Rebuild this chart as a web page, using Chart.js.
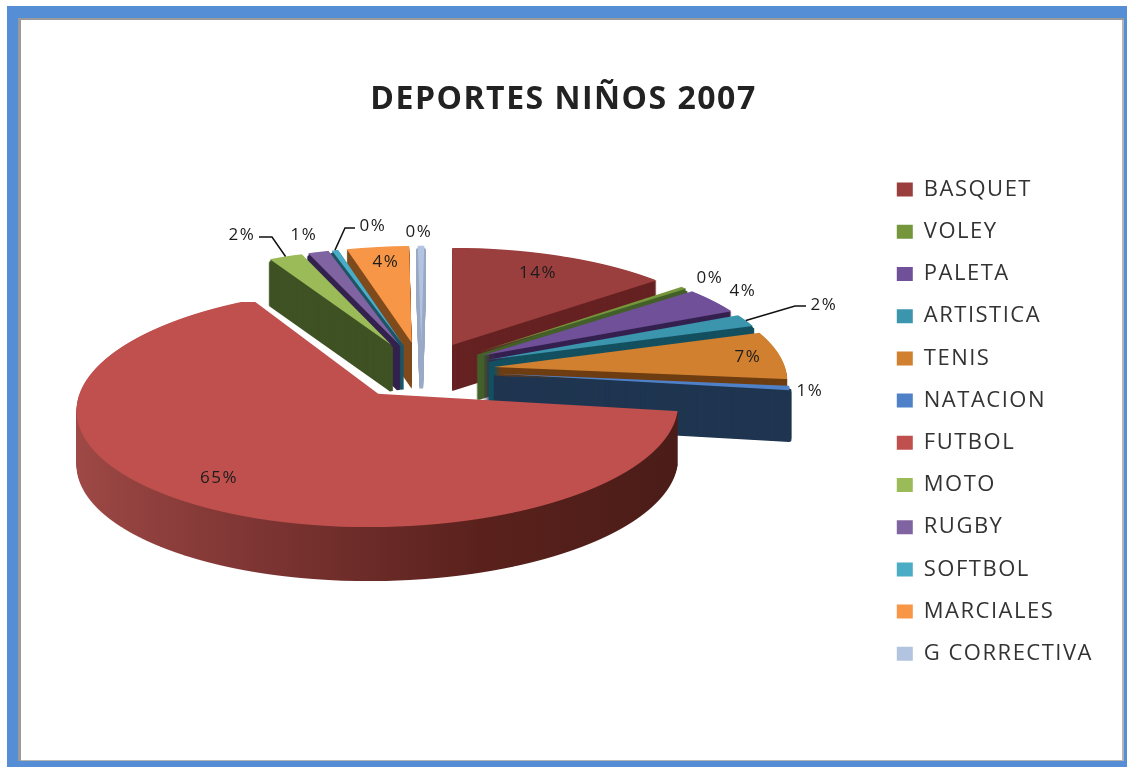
<!DOCTYPE html>
<html>
<head>
<meta charset="utf-8">
<title>Deportes niños 2007</title>
<style>
  html, body { margin: 0; padding: 0; background: #fff; }
  #frame { position: absolute; left: 7px; top: 6px; width: 1120px; height: 761px; box-sizing: border-box;
           background: #fff; border: solid #558ed5; border-width: 12px 3px 6px 11px; box-shadow: inset 3px 2px 0 #9a9a9a, inset -2px -1px 0 #b5b5b5; }
  canvas { position: absolute; left: 0; top: 0; }
</style>
</head>
<body>
<div id="frame"></div>
<canvas id="chart" width="1127" height="767"></canvas>
<script src="https://cdn.jsdelivr.net/npm/chart.js@4"></script>
<script>
const sports = ['BASQUET','VOLEY','PALETA','ARTISTICA','TENIS','NATACION','FUTBOL','MOTO','RUGBY','SOFTBOL','MARCIALES','G CORRECTIVA'];
const percents = [13.9, 0.4, 3.8, 1.8, 6.8, 0.6, 64.6, 2.1, 1.3, 0.4, 3.9, 0.4];

const topColors = ['#9a3f3e','#76963c','#71509a','#3a95ad','#d0802f','#4f81c8','#c0504d','#9bbb59','#8064a2','#4bacc6','#f79646','#b3c4e0'];
const sideColors = ['#662222','#44602a','#35214f','#14505f','#6e3d12','#1f3550','#7a3230','#3f5224','#33224e','#1d5566','#7f4a1c','#9aa9c5'];
const futbolSide = ['#a04a47','#7d3533','#5a211c','#4a1c18'];
const drawOrder = [11,10,9,8,7,0,1,2,3,4,5,6];

// ground plane seen in perspective: u goes east, v goes away from the viewer, both in pie radii.
// x,u0 is the column that stays vertical going into the distance
const view = {x: 452, u0: 0.105, y: 370, sx: 292, sy: 113, p: 0.11, explode: 0.25, wall: 50};

// text anchors for the percent labels, leader is the elbow of the line to the rim
const labelSpots = [[538,273],[710,278],[743,291],[824,305],[748,357],[810,391],[219,478],[242,235],[304,235],[373,226],[386,262],[419,232]];
const leaders = [null,null,null,[[806,306],[795,306]],null,null,null,[[259,237],[272,237]],null,[[355,228],[345,228]],null,null];

function project(u, v){
  const g = 1 / (1 + view.p * v);
  return {x: view.x + view.sx * (u - view.u0) * g, y: view.y - view.sy * v * g};
}

function wedgeInfo(arc){
  const mid = (arc.startAngle + arc.endAngle) / 2;
  const ue = Math.cos(mid) * view.explode, ve = -Math.sin(mid) * view.explode;
  let top = project(ue, ve).y, bottom = top;
  for(let t = 0; t <= 1; t += 0.02){
    const a = arc.startAngle + (arc.endAngle - arc.startAngle) * t;
    const y = project(ue + Math.cos(a), ve - Math.sin(a)).y;
    top = Math.min(top, y);
    bottom = Math.max(bottom, y);
  }
  // nearer wedges get a taller wall
  const depth = Math.round(view.wall / (1 + view.p * (ve - Math.sin(mid) * 0.6)));
  return {mid, ue, ve, depth, top: Math.floor(top) - 1, bottom: Math.ceil(bottom) + 1};
}

// an arc can't be drawn in perspective directly, so it's redrawn once per pixel row
// with the flat scale of that row
function drawRow(ctx, arc, w, row, dy){
  const yc = row + 0.5;
  const s = (view.y - yc) / view.sy;
  const v = s / (1 - view.p * s);
  const g = 1 / (1 + view.p * v);
  const r = arc.outerRadius;
  ctx.save();
  ctx.beginPath();
  ctx.rect(0, row + dy, ctx.canvas.width, 1);
  ctx.clip();
  ctx.translate(view.x + view.sx * g * (w.ue - view.u0), yc + dy - view.sy * g * g * (w.ve - v));
  ctx.scale(view.sx * g / r, view.sy * g * g / r);
  ctx.translate(-arc.x, -arc.y);
  arc.draw(ctx);
  ctx.restore();
}

const pie3d = {
  id: 'pie3d',
  beforeLayout(chart){ chart.ctx.letterSpacing = '1.5px'; },
  beforeDatasetDraw(chart){
    const ctx = chart.ctx, arcs = chart.getDatasetMeta(0).data;
    drawOrder.forEach(i => {
      const arc = arcs[i], w = wedgeInfo(arc), saved = arc.options;
      let side = sideColors[i];
      if(sports[i] === 'FUTBOL'){
        side = ctx.createLinearGradient(arc.x - arc.outerRadius, 0, arc.x + arc.outerRadius, 0);
        futbolSide.forEach((c, k) => side.addColorStop(k / (futbolSide.length - 1), c));
      }
      // thin wedges get a border on the lower layers, otherwise the stack comes out striped
      const narrow = arc.endAngle - arc.startAngle < 0.2;
      const wallPlain = Object.assign(Object.create(saved), {backgroundColor: side, borderWidth: 0});
      const wallFat = Object.assign(Object.create(saved), {backgroundColor: side, borderColor: side, borderWidth: narrow ? 3.5 : 0});
      for(let d = w.depth; d > 0; d--){
        arc.options = d > 2 ? wallFat : wallPlain;
        for(let row = w.top; row <= w.bottom; row++) drawRow(ctx, arc, w, row, d);
      }
      arc.options = Object.assign(Object.create(saved), {backgroundColor: topColors[i], borderWidth: 0});
      for(let row = w.top; row <= w.bottom; row++) drawRow(ctx, arc, w, row, 0);
      arc.options = saved;
    });
    return false;
  },
  afterDatasetsDraw(chart){
    const ctx = chart.ctx, arcs = chart.getDatasetMeta(0).data;
    ctx.save();
    ctx.font = '17px "Open Sans"';
    ctx.fillStyle = '#1c1c1c';
    ctx.textAlign = 'center';
    ctx.textBaseline = 'middle';
    percents.forEach((v, i) => {
      ctx.fillText(Math.round(v) + '%', labelSpots[i][0], labelSpots[i][1]);
      if(!leaders[i]) return;
      const w = wedgeInfo(arcs[i]);
      const rim = project(w.ue + Math.cos(w.mid), w.ve - Math.sin(w.mid));
      ctx.beginPath();
      ctx.moveTo(leaders[i][0][0], leaders[i][0][1]);
      ctx.lineTo(leaders[i][1][0], leaders[i][1][1]);
      ctx.lineTo(rim.x, rim.y);
      ctx.strokeStyle = '#111';
      ctx.lineWidth = 1.5;
      ctx.stroke();
    });
    ctx.restore();
  }
};

new Chart(document.getElementById('chart'), {
  type: 'pie',
  data: {
    labels: sports,
    datasets: [{data: percents, backgroundColor: topColors, borderWidth: 0}]
  },
  plugins: [pie3d],
  options: {
    responsive: false,
    animation: false,
    events: [],
    layout: {padding: {left: 24, right: 24, bottom: 77}},
    plugins: {
      tooltip: {enabled: false},
      title: {
        display: true,
        text: 'DEPORTES NIÑOS 2007',
        color: '#222',
        font: {family: '"Open Sans"', size: 32, weight: 'bold'},
        padding: {top: 81, bottom: 34}
      },
      legend: {
        position: 'right',
        fullSize: false,
        labels: {
          color: '#333',
          font: {family: '"Open Sans"', size: 22},
          boxWidth: 16,
          boxHeight: 14,
          padding: 20.2
        }
      }
    }
  }
});
</script>
</body>
</html>
